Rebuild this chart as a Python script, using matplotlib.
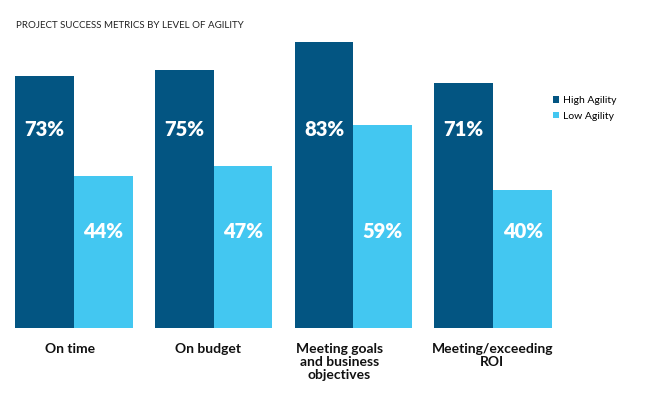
import numpy as np
import matplotlib
matplotlib.use('Agg')
import matplotlib.pyplot as plt

categories = ['On time', 'On budget', 'Meeting goals\nand business\nobjectives', 'Meeting/exceeding\nROI']
high_agility = [73, 75, 83, 71]
low_agility = [44, 47, 59, 40]
series_names = ['High Agility', 'Low Agility']

dark_blue = '#035582'
light_blue = '#43c7f1'

plt.rcParams['font.family'] = ['Lato', 'DejaVu Sans']

fig = plt.figure(figsize=(6.5, 4.07), dpi=100)
ax = fig.add_axes([15/650, 79/407, 537/650, 286/407])

x = np.arange(len(categories))
w = 0.421
b1 = ax.bar(x - w/2, high_agility, w, color=dark_blue, label=series_names[0])
b2 = ax.bar(x + w/2, low_agility, w, color=light_blue, label=series_names[1])

ax.set_xlim(-w, len(categories) - 1 + w)
ax.set_ylim(0, 83)
ax.axis('off')

# value labels sit at fixed heights inside the bars
for i in range(len(categories)):
    ax.text(x[i] - w/2, 57.7, f'{high_agility[i]}%', color='white', fontsize=14.5,
            fontweight='heavy', ha='center', va='center')
    ax.text(x[i] + w/2, 28.1, f'{low_agility[i]}%', color='white', fontsize=14.5,
            fontweight='heavy', ha='center', va='center')

# category labels under each group
offsets = [-4, -6, -14, -1]
for i, cat in enumerate(categories):
    ax.annotate(cat, xy=(x[i], 0), xycoords='data', xytext=(offsets[i] * 0.72, -11),
                textcoords='offset points', ha='center', va='top', fontsize=10,
                fontweight='bold', color='#111111', linespacing=1.08)

fig.text(16/650, 1 - 28/407, 'PROJECT SUCCESS METRICS BY LEVEL OF AGILITY',
         fontsize=7, color='#222222', ha='left', va='baseline')

ax.legend(loc='upper left', bbox_to_anchor=(553/650, 1 - 96/407), bbox_transform=fig.transFigure,
          frameon=False, fontsize=7.5, handlelength=0.6, handleheight=0.6,
          handletextpad=0.4, labelspacing=0.65, borderaxespad=0, borderpad=0)

fig.savefig('out.png', dpi=100)
